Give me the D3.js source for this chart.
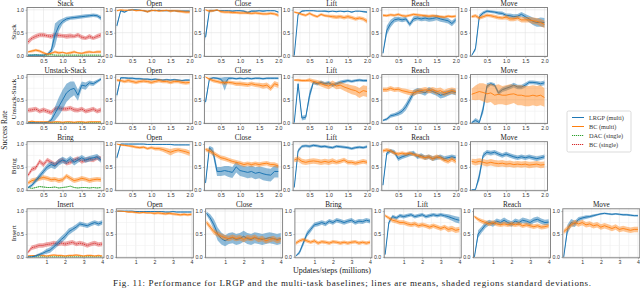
<!DOCTYPE html>
<html>
<head>
<meta charset="utf-8">
<script src="https://cdn.jsdelivr.net/npm/d3@7"></script>
<style>
  body { margin: 0; background: #fff; }
  svg { display: block; font-family: "Liberation Serif", "DejaVu Serif", serif; }
  .tick-label { font-size: 5.2px; fill: #333; }
  .title { font-size: 7.2px; fill: #222; }
</style>
</head>
<body>
<div class="chart"></div>
<script>
// x positions of the evaluation points
const steps2 = [0.1,0.2,0.3,0.4,0.5,0.6,0.7,0.8,0.9,1.0,1.1,1.2,1.3,1.4,1.5,1.6,1.7,1.8,1.9,2.0];
const steps4 = [0,0.2,0.4,0.6,0.8,1.0,1.2,1.4,1.6,1.8,2.0,2.2,2.4,2.6,2.8,3.0,3.2,3.4,3.6,3.8,4.0];
const rowNames = ["Stack", "Unstack-Stack", "Bring", "Insert"];
const xTicks2 = [0.5, 1.0, 1.5, 2.0];
const xTicks4 = [1, 2, 3, 4];
const yTicks = [0.0, 0.5, 1.0];
const methods = ["LRGP (multi)", "BC (multi)", "DAC (single)", "BC (single)"];

// ---- row 1: Stack
const r1Stack_lrgp = [0.01,0.01,0.01,0.01,0.01,0.03,0.1,0.45,0.65,0.75,0.8,0.82,0.83,0.84,0.85,0.86,0.87,0.88,0.87,0.82];
const r1Stack_lrgp_sd = [0.01,0.01,0.01,0.01,0.01,0.02,0.06,0.25,0.12,0.06,0.05,0.04,0.04,0.04,0.04,0.04,0.04,0.04,0.04,0.05];
const r1Stack_bcm = [0.08,0.1,0.12,0.1,0.06,0.03,0.05,0.08,0.06,0.07,0.05,0.06,0.08,0.06,0.05,0.07,0.08,0.07,0.08,0.08];
const r1Stack_bcm_sd = [0.02,0.03,0.03,0.03,0.03,0.02,0.02,0.03,0.03,0.02,0.02,0.03,0.03,0.02,0.02,0.03,0.03,0.02,0.03,0.03];
const r1Stack_dac = [0.01,0.01,0.02,0.01,0.01,0.01,0.02,0.01,0.01,0.01,0.01,0.01,0.01,0.01,0.01,0.01,0.01,0.01,0.01,0.01];
const r1Stack_dac_sd = [0.01,0.01,0.01,0.01,0.01,0.01,0.01,0.01,0.01,0.01,0.01,0.01,0.01,0.01,0.01,0.01,0.01,0.01,0.01,0.01];
const r1Stack_bcs = [0.3,0.38,0.42,0.45,0.45,0.43,0.42,0.45,0.44,0.43,0.42,0.43,0.42,0.45,0.4,0.38,0.42,0.38,0.42,0.45];
const r1Stack_bcs_sd = [0.06,0.05,0.05,0.05,0.05,0.04,0.05,0.05,0.05,0.04,0.05,0.05,0.04,0.05,0.05,0.04,0.05,0.04,0.05,0.05];
// ---- row 1: Open
const r1Open_lrgp = [0.65,0.98,0.95,0.99,1.0,1.0,0.99,0.98,0.96,0.99,0.98,0.99,0.98,0.98,0.98,0.98,0.97,0.97,0.97,0.97];
const r1Open_lrgp_sd = [0.05,0.02,0.02,0.01,0.01,0.01,0.01,0.01,0.02,0.01,0.01,0.01,0.01,0.01,0.01,0.01,0.02,0.02,0.02,0.02];
const r1Open_bcm = [0.98,1.0,0.99,0.99,1.0,0.98,0.99,0.98,0.96,0.98,0.99,0.97,0.98,0.99,0.97,0.98,0.97,0.96,0.95,0.95];
const r1Open_bcm_sd = [0.02,0.02,0.02,0.01,0.01,0.02,0.02,0.02,0.03,0.02,0.02,0.02,0.02,0.02,0.03,0.02,0.03,0.03,0.03,0.03];
// ---- row 1: Close
const r1Close_lrgp = [0.4,0.98,0.98,0.99,0.98,0.98,0.98,0.97,0.98,0.98,0.97,0.94,0.97,0.97,0.98,0.97,0.98,0.98,0.98,0.95];
const r1Close_lrgp_sd = [0.08,0.02,0.02,0.01,0.01,0.01,0.01,0.02,0.01,0.01,0.02,0.03,0.02,0.02,0.01,0.02,0.01,0.01,0.01,0.02];
const r1Close_bcm = [1.0,0.97,0.98,1.0,0.96,0.95,0.95,0.94,0.94,0.93,0.93,0.93,0.92,0.93,0.92,0.91,0.91,0.92,0.91,0.88];
const r1Close_bcm_sd = [0.02,0.03,0.03,0.02,0.03,0.03,0.03,0.03,0.03,0.03,0.03,0.03,0.03,0.03,0.03,0.03,0.03,0.03,0.03,0.04];
// ---- row 1: Lift
const r1Lift_lrgp = [0.0,0.9,0.97,0.98,0.98,0.98,0.97,0.97,0.97,0.96,0.97,0.96,0.97,0.96,0.97,0.95,0.97,0.97,0.96,0.95];
const r1Lift_lrgp_sd = [0.01,0.03,0.02,0.01,0.01,0.01,0.01,0.01,0.02,0.02,0.01,0.02,0.01,0.02,0.01,0.02,0.01,0.01,0.02,0.02];
const r1Lift_bcm = [0.95,0.93,0.9,0.88,0.92,0.88,0.85,0.9,0.87,0.86,0.85,0.84,0.85,0.83,0.85,0.83,0.8,0.82,0.8,0.75];
const r1Lift_bcm_sd = [0.02,0.02,0.03,0.03,0.03,0.03,0.03,0.03,0.03,0.03,0.04,0.04,0.04,0.04,0.04,0.04,0.04,0.04,0.04,0.05];
// ---- row 1: Reach
const r1Reach_lrgp = [0.05,0.55,0.7,0.78,0.8,0.78,0.8,0.68,0.8,0.82,0.8,0.82,0.8,0.81,0.83,0.8,0.78,0.76,0.7,0.78];
const r1Reach_lrgp_sd = [0.02,0.1,0.08,0.06,0.05,0.05,0.05,0.05,0.06,0.05,0.05,0.06,0.06,0.06,0.06,0.06,0.06,0.06,0.06,0.05];
const r1Reach_bcm = [0.88,0.87,0.89,0.88,0.9,0.87,0.86,0.88,0.9,0.89,0.88,0.87,0.86,0.87,0.86,0.85,0.84,0.86,0.85,0.86];
const r1Reach_bcm_sd = [0.03,0.03,0.03,0.03,0.03,0.03,0.03,0.03,0.03,0.03,0.03,0.03,0.03,0.03,0.03,0.03,0.03,0.03,0.03,0.03];
// ---- row 1: Move
const r1Move_lrgp = [0.0,0.15,0.85,0.93,0.97,0.96,0.95,0.93,0.92,0.88,0.87,0.85,0.86,0.9,0.85,0.8,0.75,0.72,0.73,0.72];
const r1Move_lrgp_sd = [0.01,0.05,0.05,0.04,0.03,0.03,0.03,0.04,0.04,0.04,0.05,0.05,0.05,0.05,0.06,0.07,0.08,0.09,0.1,0.1];
const r1Move_bcm = [0.85,0.87,0.82,0.85,0.88,0.87,0.85,0.83,0.82,0.84,0.8,0.8,0.82,0.78,0.78,0.78,0.76,0.75,0.72,0.68];
const r1Move_bcm_sd = [0.03,0.04,0.04,0.04,0.04,0.04,0.04,0.04,0.04,0.05,0.05,0.05,0.05,0.06,0.06,0.06,0.07,0.07,0.08,0.08];

// ---- row 2: Unstack-Stack
const r2Stack_lrgp = [0.0,0.0,0.0,0.0,0.0,0.01,0.05,0.2,0.35,0.5,0.65,0.72,0.75,0.6,0.82,0.8,0.87,0.85,0.9,0.95];
const r2Stack_lrgp_sd = [0.0,0.0,0.0,0.0,0.0,0.01,0.05,0.15,0.2,0.22,0.2,0.18,0.15,0.12,0.08,0.08,0.05,0.05,0.04,0.03];
const r2Stack_bcm = [0.02,0.03,0.02,0.02,0.02,0.02,0.01,0.02,0.02,0.01,0.02,0.02,0.01,0.02,0.02,0.01,0.02,0.02,0.02,0.02];
const r2Stack_bcm_sd = [0.01,0.02,0.01,0.01,0.01,0.01,0.01,0.01,0.01,0.01,0.01,0.01,0.01,0.01,0.01,0.01,0.01,0.01,0.01,0.01];
const r2Stack_dac = [0.0,0.0,0.0,0.0,0.0,0.0,0.0,0.0,0.0,0.0,0.0,0.0,0.0,0.0,0.0,0.0,0.0,0.0,0.0,0.0];
const r2Stack_dac_sd = [0.005,0.005,0.005,0.005,0.005,0.005,0.005,0.005,0.005,0.005,0.005,0.005,0.005,0.005,0.005,0.005,0.005,0.005,0.005,0.005];
const r2Stack_bcs = [0.27,0.28,0.3,0.25,0.28,0.25,0.22,0.3,0.32,0.3,0.3,0.32,0.28,0.27,0.3,0.25,0.27,0.3,0.25,0.28];
const r2Stack_bcs_sd = [0.05,0.05,0.05,0.05,0.05,0.05,0.05,0.05,0.05,0.05,0.05,0.05,0.05,0.05,0.05,0.05,0.05,0.05,0.05,0.05];
// ---- row 2: Open
const r2Open_lrgp = [0.6,0.98,0.98,0.97,0.97,0.96,0.96,0.95,0.95,0.94,0.95,0.94,0.93,0.94,0.93,0.94,0.93,0.92,0.93,0.93];
const r2Open_lrgp_sd = [0.06,0.02,0.02,0.02,0.02,0.02,0.02,0.02,0.02,0.02,0.02,0.02,0.02,0.02,0.02,0.02,0.02,0.02,0.02,0.02];
const r2Open_bcm = [0.93,0.92,0.9,0.92,0.9,0.88,0.9,0.91,0.9,0.88,0.9,0.92,0.9,0.9,0.88,0.9,0.9,0.88,0.87,0.88];
const r2Open_bcm_sd = [0.03,0.03,0.04,0.04,0.04,0.04,0.04,0.04,0.04,0.04,0.04,0.04,0.04,0.04,0.04,0.04,0.04,0.04,0.04,0.04];
// ---- row 2: Close
const r2Close_lrgp = [0.45,0.95,0.98,0.97,0.95,0.85,0.97,0.97,0.96,0.97,0.96,0.97,0.96,0.97,0.97,0.96,0.97,0.97,0.97,0.97];
const r2Close_lrgp_sd = [0.06,0.03,0.02,0.02,0.03,0.15,0.03,0.02,0.02,0.02,0.02,0.02,0.02,0.02,0.02,0.02,0.02,0.02,0.02,0.02];
const r2Close_bcm = [1.0,0.95,0.92,0.9,0.88,0.87,0.88,0.87,0.85,0.85,0.84,0.83,0.85,0.83,0.82,0.8,0.82,0.75,0.85,0.82];
const r2Close_bcm_sd = [0.02,0.03,0.04,0.04,0.04,0.04,0.04,0.04,0.05,0.05,0.05,0.05,0.05,0.05,0.05,0.06,0.06,0.06,0.06,0.06];
// ---- row 2: Lift
const r2Lift_lrgp = [0.0,0.85,0.1,0.12,0.6,0.88,0.85,0.88,0.85,0.87,0.82,0.85,0.88,0.9,0.92,0.9,0.92,0.93,0.92,0.92];
const r2Lift_lrgp_sd = [0.01,0.05,0.05,0.05,0.1,0.04,0.04,0.04,0.04,0.04,0.04,0.04,0.04,0.04,0.03,0.03,0.03,0.03,0.03,0.03];
const r2Lift_bcm = [0.93,0.93,0.92,0.92,0.93,0.9,0.88,0.85,0.82,0.8,0.85,0.8,0.82,0.78,0.75,0.72,0.7,0.65,0.7,0.68];
const r2Lift_bcm_sd = [0.02,0.03,0.03,0.03,0.04,0.05,0.05,0.06,0.06,0.07,0.07,0.07,0.08,0.08,0.09,0.1,0.1,0.11,0.12,0.12];
// ---- row 2: Reach
const r2Reach_lrgp = [0.05,0.08,0.15,0.17,0.2,0.25,0.35,0.5,0.65,0.7,0.68,0.65,0.72,0.68,0.65,0.6,0.62,0.65,0.68,0.66];
const r2Reach_lrgp_sd = [0.02,0.03,0.04,0.04,0.05,0.06,0.08,0.08,0.07,0.06,0.06,0.06,0.06,0.06,0.06,0.07,0.07,0.06,0.06,0.06];
const r2Reach_bcm = [0.72,0.72,0.75,0.72,0.73,0.7,0.68,0.66,0.65,0.68,0.7,0.72,0.7,0.72,0.68,0.7,0.65,0.68,0.7,0.68];
const r2Reach_bcm_sd = [0.05,0.05,0.05,0.05,0.05,0.05,0.06,0.06,0.06,0.06,0.06,0.06,0.06,0.06,0.07,0.07,0.07,0.07,0.07,0.07];
// ---- row 2: Move
const r2Move_lrgp = [0.0,0.05,0.0,0.3,0.8,0.85,0.82,0.65,0.72,0.75,0.78,0.82,0.78,0.78,0.82,0.88,0.88,0.87,0.85,0.87];
const r2Move_lrgp_sd = [0.02,0.05,0.05,0.1,0.06,0.04,0.04,0.05,0.05,0.05,0.05,0.05,0.05,0.05,0.05,0.04,0.04,0.04,0.05,0.05];
const r2Move_bcm = [0.62,0.65,0.68,0.66,0.63,0.65,0.6,0.62,0.6,0.6,0.62,0.63,0.6,0.6,0.58,0.58,0.6,0.58,0.6,0.55];
const r2Move_bcm_sd = [0.12,0.16,0.18,0.2,0.2,0.2,0.22,0.22,0.2,0.22,0.22,0.2,0.22,0.22,0.22,0.22,0.22,0.22,0.22,0.2];

// ---- row 3: Bring
const r3Bring_lrgp = [0.05,0.1,0.2,0.3,0.4,0.5,0.55,0.52,0.6,0.65,0.62,0.68,0.6,0.65,0.7,0.65,0.68,0.7,0.72,0.65];
const r3Bring_lrgp_sd = [0.02,0.04,0.05,0.06,0.06,0.07,0.07,0.07,0.07,0.07,0.06,0.06,0.07,0.06,0.06,0.06,0.06,0.06,0.06,0.06];
const r3Bring_bcm = [0.15,0.2,0.22,0.25,0.27,0.25,0.22,0.23,0.2,0.22,0.3,0.25,0.2,0.22,0.25,0.23,0.2,0.22,0.23,0.22];
const r3Bring_bcm_sd = [0.04,0.05,0.05,0.05,0.05,0.05,0.05,0.05,0.05,0.05,0.05,0.05,0.05,0.05,0.05,0.05,0.05,0.05,0.05,0.05];
const r3Bring_dac = [0.05,0.03,0.05,0.07,0.06,0.05,0.05,0.06,0.04,0.05,0.06,0.08,0.05,0.04,0.05,0.05,0.04,0.05,0.04,0.05];
const r3Bring_dac_sd = [0.01,0.01,0.01,0.01,0.01,0.01,0.01,0.01,0.01,0.01,0.01,0.01,0.01,0.01,0.01,0.01,0.01,0.01,0.01,0.01];
const r3Bring_bcs = [0.32,0.45,0.48,0.62,0.55,0.65,0.6,0.55,0.62,0.65,0.58,0.6,0.65,0.68,0.62,0.65,0.67,0.65,0.7,0.68];
const r3Bring_bcs_sd = [0.04,0.05,0.05,0.05,0.05,0.05,0.05,0.05,0.05,0.05,0.05,0.05,0.05,0.05,0.05,0.05,0.05,0.05,0.05,0.05];
// ---- row 3: Open
const r3Open_lrgp = [0.7,1.0,1.0,1.0,1.0,1.0,1.0,1.0,0.99,0.99,0.99,0.99,0.99,0.99,0.99,0.98,0.98,0.98,0.98,0.98];
const r3Open_lrgp_sd = [0.05,0.01,0.01,0.01,0.01,0.01,0.01,0.01,0.01,0.01,0.01,0.01,0.01,0.01,0.01,0.01,0.01,0.01,0.01,0.01];
const r3Open_bcm = [1.0,0.98,0.97,0.96,0.95,0.93,0.92,0.93,0.9,0.92,0.9,0.9,0.88,0.85,0.82,0.85,0.87,0.85,0.83,0.8];
const r3Open_bcm_sd = [0.01,0.02,0.02,0.02,0.03,0.03,0.03,0.03,0.03,0.03,0.04,0.04,0.05,0.06,0.07,0.06,0.05,0.05,0.06,0.06];
// ---- row 3: Close
const r3Close_lrgp = [0.15,0.92,0.82,0.4,0.4,0.42,0.4,0.38,0.5,0.42,0.4,0.38,0.4,0.36,0.38,0.35,0.33,0.32,0.4,0.4];
const r3Close_lrgp_sd = [0.05,0.04,0.1,0.1,0.1,0.1,0.12,0.12,0.12,0.12,0.12,0.13,0.13,0.13,0.13,0.14,0.14,0.14,0.13,0.13];
const r3Close_bcm = [0.88,0.85,0.8,0.75,0.7,0.68,0.65,0.62,0.6,0.58,0.55,0.57,0.55,0.57,0.55,0.57,0.58,0.55,0.55,0.52];
const r3Close_bcm_sd = [0.04,0.05,0.05,0.05,0.05,0.05,0.05,0.05,0.05,0.05,0.05,0.05,0.05,0.05,0.05,0.05,0.05,0.05,0.05,0.05];
// ---- row 3: Lift
const r3Lift_lrgp = [0.05,0.85,0.95,0.96,0.95,0.97,0.96,0.94,0.95,0.93,0.92,0.95,0.94,0.93,0.92,0.9,0.92,0.93,0.92,0.94];
const r3Lift_lrgp_sd = [0.02,0.04,0.03,0.03,0.03,0.03,0.03,0.03,0.03,0.03,0.03,0.03,0.03,0.03,0.03,0.03,0.03,0.03,0.03,0.03];
const r3Lift_bcm = [0.65,0.68,0.62,0.6,0.62,0.63,0.62,0.6,0.62,0.6,0.63,0.6,0.62,0.65,0.6,0.6,0.58,0.6,0.62,0.6];
const r3Lift_bcm_sd = [0.05,0.06,0.06,0.06,0.06,0.06,0.06,0.06,0.06,0.06,0.06,0.05,0.05,0.05,0.05,0.05,0.05,0.05,0.05,0.05];
// ---- row 3: Reach
const r3Reach_lrgp = [0.1,0.8,0.85,0.82,0.68,0.72,0.75,0.78,0.8,0.72,0.75,0.7,0.72,0.68,0.7,0.72,0.68,0.7,0.72,0.7];
const r3Reach_lrgp_sd = [0.03,0.05,0.04,0.05,0.05,0.05,0.05,0.05,0.05,0.05,0.05,0.05,0.05,0.05,0.05,0.05,0.05,0.05,0.05,0.05];
const r3Reach_bcm = [0.85,0.87,0.85,0.8,0.78,0.8,0.78,0.8,0.77,0.75,0.72,0.7,0.72,0.68,0.72,0.7,0.65,0.62,0.67,0.62];
const r3Reach_bcm_sd = [0.04,0.04,0.04,0.04,0.04,0.04,0.04,0.04,0.04,0.04,0.05,0.05,0.05,0.05,0.05,0.05,0.05,0.05,0.05,0.05];
// ---- row 3: Move
const r3Move_lrgp = [0.0,0.0,0.3,0.75,0.82,0.8,0.82,0.78,0.75,0.78,0.75,0.72,0.7,0.72,0.7,0.72,0.7,0.68,0.7,0.72];
const r3Move_lrgp_sd = [0.01,0.02,0.1,0.06,0.05,0.05,0.05,0.05,0.05,0.05,0.05,0.05,0.05,0.05,0.05,0.05,0.05,0.05,0.05,0.05];
const r3Move_bcm = [0.62,0.6,0.62,0.6,0.58,0.6,0.58,0.57,0.58,0.56,0.57,0.55,0.56,0.55,0.56,0.54,0.55,0.56,0.54,0.55];
const r3Move_bcm_sd = [0.06,0.07,0.07,0.07,0.07,0.07,0.07,0.07,0.07,0.07,0.07,0.07,0.07,0.07,0.07,0.07,0.07,0.07,0.07,0.07];

// ---- row 4: Insert (x up to 4M)
const r4Insert_lrgp = [0.0,0.0,0.02,0.05,0.08,0.12,0.15,0.22,0.3,0.38,0.45,0.55,0.6,0.65,0.72,0.7,0.68,0.72,0.75,0.72,0.75];
const r4Insert_lrgp_sd = [0.0,0.01,0.02,0.03,0.04,0.05,0.06,0.06,0.07,0.07,0.07,0.07,0.06,0.06,0.05,0.05,0.05,0.05,0.05,0.05,0.05];
const r4Insert_bcm = [0.02,0.03,0.03,0.04,0.03,0.02,0.03,0.04,0.03,0.03,0.02,0.03,0.03,0.04,0.03,0.02,0.03,0.03,0.02,0.03,0.02];
const r4Insert_bcm_sd = [0.01,0.01,0.01,0.02,0.02,0.01,0.02,0.02,0.02,0.02,0.01,0.02,0.02,0.02,0.02,0.01,0.02,0.02,0.01,0.02,0.01];
const r4Insert_dac = [0.0,0.0,0.0,0.0,0.0,0.0,0.0,0.0,0.0,0.0,0.0,0.0,0.0,0.0,0.0,0.0,0.0,0.0,0.0,0.0,0.0];
const r4Insert_dac_sd = [0.005,0.005,0.005,0.005,0.005,0.005,0.005,0.005,0.005,0.005,0.005,0.005,0.005,0.005,0.005,0.005,0.005,0.005,0.005,0.005,0.005];
const r4Insert_bcs = [0.1,0.2,0.22,0.25,0.25,0.27,0.28,0.3,0.28,0.3,0.28,0.3,0.32,0.28,0.3,0.28,0.25,0.28,0.3,0.27,0.28];
const r4Insert_bcs_sd = [0.03,0.05,0.05,0.05,0.05,0.05,0.05,0.05,0.05,0.05,0.05,0.05,0.05,0.05,0.05,0.05,0.05,0.05,0.05,0.05,0.05];
// ---- row 4: Open
const r4Open_lrgp = [1.0,1.0,1.0,1.0,1.0,0.99,0.99,0.99,0.99,0.99,0.99,0.99,0.99,0.98,0.98,0.99,0.98,0.98,0.98,0.98,0.98];
const r4Open_lrgp_sd = [0.01,0.01,0.01,0.01,0.01,0.01,0.01,0.01,0.01,0.01,0.01,0.01,0.01,0.01,0.01,0.01,0.01,0.01,0.01,0.01,0.01];
const r4Open_bcm = [1.0,1.0,0.99,0.98,0.98,0.97,0.96,0.97,0.96,0.96,0.95,0.96,0.95,0.94,0.95,0.94,0.93,0.92,0.93,0.92,0.93];
const r4Open_bcm_sd = [0.01,0.01,0.01,0.02,0.02,0.02,0.02,0.02,0.02,0.02,0.03,0.03,0.03,0.03,0.03,0.03,0.03,0.03,0.03,0.03,0.03];
// ---- row 4: Close
const r4Close_lrgp = [0.95,0.85,0.7,0.5,0.4,0.35,0.4,0.42,0.38,0.4,0.45,0.4,0.38,0.42,0.4,0.38,0.4,0.42,0.4,0.38,0.4];
const r4Close_lrgp_sd = [0.04,0.08,0.12,0.14,0.13,0.12,0.12,0.12,0.12,0.12,0.12,0.12,0.12,0.12,0.12,0.12,0.12,0.12,0.12,0.12,0.12];
const r4Close_bcm = [0.75,0.65,0.55,0.5,0.45,0.42,0.4,0.43,0.4,0.42,0.38,0.42,0.4,0.43,0.38,0.4,0.35,0.38,0.4,0.36,0.38];
const r4Close_bcm_sd = [0.05,0.06,0.06,0.06,0.06,0.06,0.06,0.06,0.06,0.06,0.06,0.06,0.06,0.06,0.06,0.06,0.06,0.06,0.06,0.06,0.06];
// ---- row 4: Bring
const r4Bring_lrgp = [0.02,0.1,0.3,0.5,0.6,0.7,0.72,0.75,0.72,0.78,0.75,0.8,0.78,0.75,0.78,0.8,0.75,0.78,0.77,0.8,0.78];
const r4Bring_lrgp_sd = [0.01,0.04,0.06,0.06,0.06,0.05,0.05,0.05,0.05,0.05,0.05,0.05,0.05,0.05,0.05,0.05,0.05,0.05,0.05,0.05,0.05];
const r4Bring_bcm = [0.3,0.35,0.38,0.35,0.32,0.35,0.3,0.33,0.32,0.3,0.33,0.32,0.3,0.32,0.3,0.32,0.33,0.3,0.32,0.3,0.32];
const r4Bring_bcm_sd = [0.04,0.04,0.04,0.04,0.04,0.04,0.04,0.04,0.04,0.04,0.04,0.04,0.04,0.04,0.04,0.04,0.04,0.04,0.04,0.04,0.04];
// ---- row 4: Lift
const r4Lift_lrgp = [0.05,0.75,0.88,0.85,0.9,0.88,0.9,0.92,0.88,0.9,0.92,0.88,0.9,0.92,0.9,0.92,0.9,0.88,0.85,0.82,0.8];
const r4Lift_lrgp_sd = [0.02,0.05,0.04,0.04,0.04,0.04,0.04,0.04,0.04,0.04,0.04,0.04,0.04,0.04,0.04,0.04,0.04,0.05,0.06,0.07,0.07];
const r4Lift_bcm = [0.9,0.85,0.8,0.78,0.75,0.75,0.72,0.7,0.72,0.68,0.7,0.68,0.65,0.68,0.65,0.62,0.65,0.6,0.62,0.58,0.6];
const r4Lift_bcm_sd = [0.03,0.04,0.05,0.05,0.05,0.05,0.05,0.05,0.05,0.05,0.05,0.05,0.05,0.05,0.05,0.05,0.05,0.06,0.06,0.06,0.06];
// ---- row 4: Reach
const r4Reach_lrgp = [0.0,0.5,0.6,0.7,0.75,0.72,0.78,0.75,0.8,0.75,0.72,0.78,0.75,0.8,0.78,0.75,0.8,0.82,0.78,0.75,0.76];
const r4Reach_lrgp_sd = [0.01,0.08,0.07,0.07,0.06,0.06,0.06,0.06,0.06,0.06,0.06,0.06,0.06,0.06,0.06,0.06,0.06,0.06,0.06,0.06,0.06];
const r4Reach_bcm = [0.88,0.82,0.78,0.75,0.72,0.75,0.72,0.7,0.72,0.7,0.72,0.7,0.72,0.68,0.7,0.68,0.66,0.68,0.65,0.66,0.68];
const r4Reach_bcm_sd = [0.03,0.04,0.05,0.05,0.05,0.05,0.05,0.05,0.05,0.05,0.05,0.05,0.05,0.05,0.05,0.05,0.05,0.05,0.05,0.05,0.05];
// ---- row 4: Move
const r4Move_lrgp = [0.0,0.6,0.75,0.72,0.82,0.85,0.87,0.88,0.9,0.92,0.94,0.95,0.94,0.93,0.94,0.93,0.92,0.92,0.91,0.9,0.9];
const r4Move_lrgp_sd = [0.01,0.1,0.08,0.07,0.05,0.04,0.04,0.03,0.03,0.02,0.02,0.02,0.02,0.02,0.02,0.02,0.02,0.02,0.02,0.02,0.02];
const r4Move_bcm = [0.55,0.62,0.7,0.75,0.72,0.75,0.7,0.72,0.68,0.7,0.65,0.68,0.65,0.62,0.65,0.6,0.62,0.6,0.58,0.6,0.6];
const r4Move_bcm_sd = [0.05,0.06,0.06,0.06,0.06,0.06,0.06,0.06,0.06,0.06,0.06,0.06,0.06,0.06,0.06,0.06,0.06,0.06,0.06,0.06,0.06];

// ---- panel table built from the arrays above
const S = (key, mean, sd) => ({ key, mean, sd });
const panels = [
  { row: 0, col: 0, title: "Stack", series: [S("bcs", r1Stack_bcs, r1Stack_bcs_sd), S("dac", r1Stack_dac, r1Stack_dac_sd), S("lrgp", r1Stack_lrgp, r1Stack_lrgp_sd), S("bcm", r1Stack_bcm, r1Stack_bcm_sd)] },
  { row: 0, col: 1, title: "Open", series: [S("lrgp", r1Open_lrgp, r1Open_lrgp_sd), S("bcm", r1Open_bcm, r1Open_bcm_sd)] },
  { row: 0, col: 2, title: "Close", series: [S("lrgp", r1Close_lrgp, r1Close_lrgp_sd), S("bcm", r1Close_bcm, r1Close_bcm_sd)] },
  { row: 0, col: 3, title: "Lift", series: [S("lrgp", r1Lift_lrgp, r1Lift_lrgp_sd), S("bcm", r1Lift_bcm, r1Lift_bcm_sd)] },
  { row: 0, col: 4, title: "Reach", series: [S("lrgp", r1Reach_lrgp, r1Reach_lrgp_sd), S("bcm", r1Reach_bcm, r1Reach_bcm_sd)] },
  { row: 0, col: 5, title: "Move", series: [S("lrgp", r1Move_lrgp, r1Move_lrgp_sd), S("bcm", r1Move_bcm, r1Move_bcm_sd)] },
  { row: 1, col: 0, title: "Unstack-Stack", series: [S("bcs", r2Stack_bcs, r2Stack_bcs_sd), S("dac", r2Stack_dac, r2Stack_dac_sd), S("lrgp", r2Stack_lrgp, r2Stack_lrgp_sd), S("bcm", r2Stack_bcm, r2Stack_bcm_sd)] },
  { row: 1, col: 1, title: "Open", series: [S("lrgp", r2Open_lrgp, r2Open_lrgp_sd), S("bcm", r2Open_bcm, r2Open_bcm_sd)] },
  { row: 1, col: 2, title: "Close", series: [S("lrgp", r2Close_lrgp, r2Close_lrgp_sd), S("bcm", r2Close_bcm, r2Close_bcm_sd)] },
  { row: 1, col: 3, title: "Lift", series: [S("lrgp", r2Lift_lrgp, r2Lift_lrgp_sd), S("bcm", r2Lift_bcm, r2Lift_bcm_sd)] },
  { row: 1, col: 4, title: "Reach", series: [S("lrgp", r2Reach_lrgp, r2Reach_lrgp_sd), S("bcm", r2Reach_bcm, r2Reach_bcm_sd)] },
  { row: 1, col: 5, title: "Move", series: [S("lrgp", r2Move_lrgp, r2Move_lrgp_sd), S("bcm", r2Move_bcm, r2Move_bcm_sd)] },
  { row: 2, col: 0, title: "Bring", series: [S("bcs", r3Bring_bcs, r3Bring_bcs_sd), S("dac", r3Bring_dac, r3Bring_dac_sd), S("bcm", r3Bring_bcm, r3Bring_bcm_sd), S("lrgp", r3Bring_lrgp, r3Bring_lrgp_sd)] },
  { row: 2, col: 1, title: "Open", series: [S("lrgp", r3Open_lrgp, r3Open_lrgp_sd), S("bcm", r3Open_bcm, r3Open_bcm_sd)] },
  { row: 2, col: 2, title: "Close", series: [S("lrgp", r3Close_lrgp, r3Close_lrgp_sd), S("bcm", r3Close_bcm, r3Close_bcm_sd)] },
  { row: 2, col: 3, title: "Lift", series: [S("lrgp", r3Lift_lrgp, r3Lift_lrgp_sd), S("bcm", r3Lift_bcm, r3Lift_bcm_sd)] },
  { row: 2, col: 4, title: "Reach", series: [S("lrgp", r3Reach_lrgp, r3Reach_lrgp_sd), S("bcm", r3Reach_bcm, r3Reach_bcm_sd)] },
  { row: 2, col: 5, title: "Move", series: [S("lrgp", r3Move_lrgp, r3Move_lrgp_sd), S("bcm", r3Move_bcm, r3Move_bcm_sd)] },
  { row: 3, col: 0, title: "Insert", series: [S("bcs", r4Insert_bcs, r4Insert_bcs_sd), S("dac", r4Insert_dac, r4Insert_dac_sd), S("bcm", r4Insert_bcm, r4Insert_bcm_sd), S("lrgp", r4Insert_lrgp, r4Insert_lrgp_sd)] },
  { row: 3, col: 1, title: "Open", series: [S("lrgp", r4Open_lrgp, r4Open_lrgp_sd), S("bcm", r4Open_bcm, r4Open_bcm_sd)] },
  { row: 3, col: 2, title: "Close", series: [S("lrgp", r4Close_lrgp, r4Close_lrgp_sd), S("bcm", r4Close_bcm, r4Close_bcm_sd)] },
  { row: 3, col: 3, title: "Bring", series: [S("lrgp", r4Bring_lrgp, r4Bring_lrgp_sd), S("bcm", r4Bring_bcm, r4Bring_bcm_sd)] },
  { row: 3, col: 4, title: "Lift", series: [S("lrgp", r4Lift_lrgp, r4Lift_lrgp_sd), S("bcm", r4Lift_bcm, r4Lift_bcm_sd)] },
  { row: 3, col: 5, title: "Reach", series: [S("lrgp", r4Reach_lrgp, r4Reach_lrgp_sd), S("bcm", r4Reach_bcm, r4Reach_bcm_sd)] },
  { row: 3, col: 6, title: "Move", series: [S("lrgp", r4Move_lrgp, r4Move_lrgp_sd), S("bcm", r4Move_bcm, r4Move_bcm_sd)] }
];

// styles per method
const styles = {
  lrgp: { color: "#1f77b4", band: 0.5, width: 1, dash: null },
  bcm:  { color: "#ff7f0e", band: 0.45, width: 0.9, dash: null },
  dac:  { color: "#2ca02c", band: 0.45, width: 0.9, dash: "1.2,0.8" },
  bcs:  { color: "#d62728", band: 0.4, width: 0.9, dash: "1.2,0.8" }
};
const legendKeys = ["lrgp", "bcm", "dac", "bcs"];

// layout
const W = 640, H = 288;
const panelW = 77, panelH = 49;
const rowTop = r => 7.5 + r * 67.1;
const colLeft = (r, c) => r < 3 ? 27 + c * 88.7 : 27 + c * 89.3;

const svg = d3.select(".chart").append("svg")
    .attr("width", W)
    .attr("height", H);

const yScale = d3.scaleLinear().domain([-0.02, 1.05]).range([panelH, 0]);

panels.forEach(p => {
  const long = p.row === 3;
  const steps = long ? steps4 : steps2;
  const xScale = d3.scaleLinear()
      .domain(long ? [-0.05, 4.1] : [0.07, 2.08])
      .range([0, panelW]);
  const g = svg.append("g")
      .attr("transform", `translate(${colLeft(p.row, p.col)},${rowTop(p.row)})`);

  // grid
  const xMinor = long ? [0.5,1,1.5,2,2.5,3,3.5,4] : [0.25,0.5,0.75,1,1.25,1.5,1.75,2];
  g.append("g").selectAll("line").data(xMinor).join("line")
      .attr("x1", d => xScale(d)).attr("x2", d => xScale(d))
      .attr("y1", 0).attr("y2", panelH)
      .attr("stroke", d => (long ? Number.isInteger(d) : d % 0.5 === 0) ? "#e2e2e2" : "#f0f0f0")
      .attr("stroke-width", 0.6);
  g.append("g").selectAll("line").data([0, 0.25, 0.5, 0.75, 1]).join("line")
      .attr("x1", 0).attr("x2", panelW)
      .attr("y1", d => yScale(d)).attr("y2", d => yScale(d))
      .attr("stroke", d => d % 0.5 === 0 ? "#e2e2e2" : "#f0f0f0")
      .attr("stroke-width", 0.6);

  // bands and lines
  const clipId = `clip-${p.row}-${p.col}`;
  g.append("clipPath").attr("id", clipId).append("rect")
      .attr("width", panelW).attr("height", panelH);
  const plot = g.append("g").attr("clip-path", `url(#${clipId})`);
  p.series.forEach(s => {
    const st = styles[s.key];
    const pts = steps.map((x, i) => ({ x, m: s.mean[i], sd: s.sd[i] }));
    const area = d3.area()
        .x(d => xScale(d.x))
        .y0(d => yScale(Math.max(0, d.m - d.sd)))
        .y1(d => yScale(Math.min(1, d.m + d.sd)));
    const line = d3.line().x(d => xScale(d.x)).y(d => yScale(d.m));
    plot.append("path").datum(pts)
        .attr("d", area)
        .attr("fill", st.color)
        .attr("fill-opacity", st.band)
        .attr("stroke", "none");
    plot.append("path").datum(pts)
        .attr("d", line)
        .attr("fill", "none")
        .attr("stroke", st.color)
        .attr("stroke-width", st.width)
        .attr("stroke-dasharray", st.dash);
  });

  // frame
  g.append("rect")
      .attr("width", panelW).attr("height", panelH)
      .attr("fill", "none")
      .attr("stroke", "#7a7a7a")
      .attr("stroke-width", 0.9);

  // axes
  const xAxis = d3.axisBottom(xScale)
      .tickValues(long ? xTicks4 : xTicks2)
      .tickFormat(long ? d3.format("d") : d3.format(".1f"))
      .tickSize(1.5).tickPadding(1.5);
  const yAxis = d3.axisLeft(yScale)
      .tickValues(yTicks)
      .tickFormat(d3.format(".1f"))
      .tickSize(1.5).tickPadding(1.5);
  const xa = g.append("g").attr("transform", `translate(0,${panelH})`).call(xAxis);
  const ya = g.append("g").call(yAxis);
  [xa, ya].forEach(a => {
    a.select(".domain").remove();
    a.selectAll(".tick line").attr("stroke", "#777").attr("stroke-width", 0.5);
    a.selectAll(".tick text").attr("class", "tick-label")
        .attr("font-family", null).attr("font-size", null);
  });

  // title
  g.append("text")
      .attr("class", "title")
      .attr("x", panelW / 2)
      .attr("y", -1.8)
      .attr("text-anchor", "middle")
      .text(p.title);
});

// row labels and shared axis titles
rowNames.forEach((name, r) => {
  svg.append("text")
      .attr("transform", `translate(15.5,${rowTop(r) + panelH / 2}) rotate(-90)`)
      .attr("text-anchor", "middle")
      .attr("font-size", 7)
      .attr("fill", "#222")
      .text(name);
});
svg.append("text")
    .attr("transform", `translate(7,130) rotate(-90)`)
    .attr("text-anchor", "middle")
    .attr("font-size", 7.5)
    .attr("fill", "#222")
    .text("Success Rate");
svg.append("text")
    .attr("x", 332)
    .attr("y", 273)
    .attr("text-anchor", "middle")
    .attr("font-size", 8)
    .attr("fill", "#222")
    .text("Updates/steps (millions)");

// caption at the bottom edge
svg.append("text")
    .attr("x", 113)
    .attr("y", 285.5)
    .attr("font-size", 9)
    .attr("fill", "#222")
    .attr("textLength", 478)
    .text("Fig. 11: Performance for LRGP and the multi-task baselines; lines are means, shaded regions standard deviations.");

// legend
const lg = svg.append("g").attr("transform", "translate(567,111)");
lg.append("rect")
    .attr("width", 64).attr("height", 41)
    .attr("rx", 1.5)
    .attr("fill", "#fff")
    .attr("stroke", "#cccccc")
    .attr("stroke-width", 0.7);
legendKeys.forEach((k, i) => {
  const st = styles[k];
  const y = 6.5 + i * 9;
  lg.append("line")
      .attr("x1", 5).attr("x2", 17)
      .attr("y1", y).attr("y2", y)
      .attr("stroke", st.color)
      .attr("stroke-width", 1)
      .attr("stroke-dasharray", st.dash);
  lg.append("text")
      .attr("x", 22).attr("y", y + 2.2)
      .attr("font-size", 6.3)
      .attr("fill", "#333")
      .text(methods[i]);
});
</script>
</body>
</html>
